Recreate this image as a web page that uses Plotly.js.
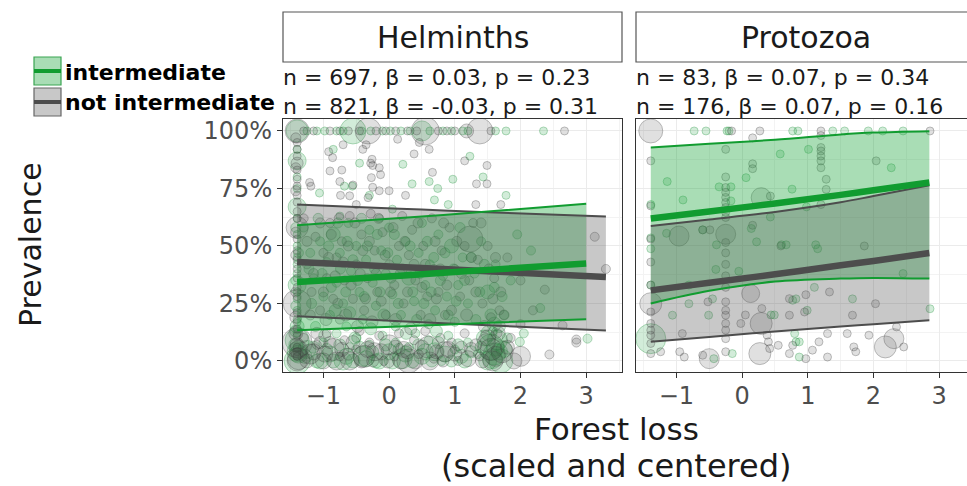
<!DOCTYPE html>
<html><head><meta charset="utf-8">
<script src="https://cdn.plot.ly/plotly-3.0.1.min.js"></script>
<style>html,body{margin:0;padding:0;background:#fff;}#chart{width:967px;height:486px;}</style>
</head><body><div id="chart"></div>
<script>
// ---------------- DATA ----------------
const panels = ['Helminths', 'Protozoa'];
const groups = ['intermediate', 'not intermediate'];
const statsHelminths = ['n = 697, β = 0.03, p = 0.23', 'n = 821, β = -0.03, p = 0.31'];
const statsProtozoa = ['n = 83, β = 0.07, p = 0.34', 'n = 176, β = 0.07, p = 0.16'];
const xTickVals = [-1, 0, 1, 2, 3];
const xTickText = ['−1', '0', '1', '2', '3'];
const yTickVals = [0, 0.25, 0.5, 0.75, 1];
const yTickText = ['0%', '25%', '50%', '75%', '100%'];

// points: [forest loss, prevalence, bubble size]
const helmIntPoints = [
[-1.4,1.0,22],[-1.4,0.87,18],[-1.4,0.67,18],[-1.4,0.62,8],[-1.4,0.55,8],[-1.4,0.5,8],[-1.4,0.45,8],[-1.4,0.42,8],[-1.4,0.38,8],[-1.4,0.33,18],[-1.4,0.3,8],[-1.4,0.27,8],[-1.4,0.22,8],[-1.4,0.18,8],[-1.4,0.15,14],[-1.4,0.12,8],[-1.4,0.09,24],[-1.4,0.06,8],[-1.4,0.04,20],[-1.4,0.02,8],[-1.4,0.0,26],[-1.4,0.8,8],[-1.4,0.75,8],[-1.4,0.92,8],
[-1.42,0.35,10],[-1.42,0.24,10],[-1.42,0.13,12],[-1.42,0.07,14],[-1.38,0.03,18],[-1.38,0.47,10],[-1.42,0.58,10],
[-1.25,1,8],[-1.1,1,8],[-0.98,1,8],[-0.8,1,8],[-0.7,1,8],[-0.55,1,26],[-0.42,1,8],[-0.28,1,8],[-0.1,1,8],[0.02,1,8],[0.18,1,8],[0.32,1,8],[0.5,1,20],[0.62,1,8],[0.82,1,8],[0.95,1,8],[1.12,1,8],[1.2,1,8],[1.62,1,8],[1.78,1,8],[2.35,1,8],
[-1.06,0.73,8],[-0.68,0.76,8],[-0.56,0.76,8],[-0.75,0.63,8],[-0.3,0.72,8],[0.21,0.855,8],[0.61,0.78,8],[0.74,0.75,8],[0.69,0.70,8],[0.97,0.79,8],[1.23,0.89,8],[1.43,0.80,8],[1.78,0.72,8],[0.9,0.68,8],[0.35,0.77,8],[-0.15,0.62,8],[0.05,0.66,8],[-0.85,0.92,8],[-0.45,0.86,8],
[-1.3,0.58,9],[-1.2,0.47,9],[-1.15,0.36,9],[-1.05,0.52,9],[-1.0,0.28,9],[-0.95,0.43,9],[-0.9,0.2,9],[-0.85,0.55,14],[-0.8,0.34,9],[-0.75,0.47,9],[-0.7,0.25,9],[-0.62,0.6,9],[-0.58,0.39,9],[-0.5,0.5,9],[-0.45,0.3,9],[-0.4,0.18,9],[-0.35,0.44,9],[-0.3,0.57,9],[-0.25,0.34,9],[-0.2,0.24,9],[-0.12,0.48,9],[-0.05,0.38,9],[0.0,0.58,9],[0.05,0.29,9],[0.12,0.44,9],[0.18,0.2,9],[0.25,0.52,9],[0.3,0.36,14],[0.38,0.26,9],[0.45,0.47,9],[0.5,0.6,9],[0.55,0.33,9],[0.62,0.42,9],[0.7,0.22,9],[0.75,0.55,9],[0.82,0.37,9],[0.88,0.28,9],[0.95,0.5,14],[1.05,0.33,9],[1.12,0.45,9],[1.2,0.25,9],[1.3,0.38,9],[1.4,0.52,9],[1.5,0.3,14],[1.62,0.42,9],[1.75,0.2,9],[1.85,0.35,9],[2.16,0.48,9],[2.3,0.23,9],[1.95,0.55,9],[-0.65,0.15,9],[0.1,0.15,9],[0.6,0.16,9],[1.0,0.17,9],
[-1.22,0.4,10],[-1.18,0.25,10],[-1.12,0.15,10],[-1.08,0.62,10],[-1.02,0.38,10],[-0.98,0.11,12],[-0.92,0.5,10],[-0.88,0.32,10],[-0.82,0.22,12],[-0.78,0.6,10],[-0.74,0.4,10],[-0.66,0.3,10],[-0.64,0.52,10],[-0.6,0.21,12],[-0.55,0.44,10],[-0.52,0.1,12],[-0.48,0.35,10],[-0.42,0.62,10],[-0.38,0.28,10],[-0.33,0.5,10],[-0.28,0.14,12],[-0.22,0.4,10],[-0.18,0.55,10],[-0.14,0.3,10],[-0.08,0.2,12],[-0.02,0.47,10],[0.03,0.36,10],[0.08,0.55,10],[0.14,0.25,10],[0.2,0.4,10],[0.26,0.12,12],[0.32,0.5,10],[0.36,0.3,10],[0.42,0.18,10],[0.47,0.38,10],[0.53,0.25,10],[0.58,0.52,10],[0.64,0.3,10],[0.68,0.45,10],[0.72,0.13,12],[0.78,0.35,10],[0.85,0.47,10],[0.9,0.2,10],[0.98,0.4,10],[1.02,0.26,10],[1.08,0.58,10],[1.15,0.35,10],[1.25,0.45,10],[1.32,0.18,10],[1.38,0.3,10],[1.45,0.42,10],[1.55,0.2,12],[1.6,0.32,10],[1.68,0.15,12],[1.72,0.28,10],[1.8,0.1,10],[1.52,0.12,16],[1.62,0.06,18],[1.57,0.01,20],[1.68,0.04,16],[1.6,0.16,14],
[-1.25,0.05,18],[-1.1,0.0,14],[-1.0,0.08,9],[-0.9,0.03,16],[-0.8,0.12,9],[-0.7,0.0,18],[-0.6,0.06,9],[-0.5,0.1,9],[-0.4,0.02,20],[-0.3,0.07,9],[-0.2,0.0,14],[-0.1,0.11,9],[0.0,0.04,16],[0.1,0.08,9],[0.2,0.01,20],[0.3,0.06,9],[0.4,0.12,9],[0.5,0.02,16],[0.6,0.09,9],[0.7,0.04,18],[0.8,0.0,9],[0.9,0.11,9],[1.0,0.05,9],[1.1,0.02,14],[1.2,0.08,9],[1.35,0.03,9],[1.45,0.1,16],[1.55,0.06,26],[1.6,0.03,22],[1.65,0.09,20],[1.7,0.0,24],[1.58,0.13,9],[1.75,0.05,16],[1.99,0.083,9],[2.05,0.12,9],[3.02,0.097,9],[1.5,0.0,18],
[-1.28,0.02,14],[-1.15,0.06,12],[-1.05,0.0,16],[-0.95,0.05,12],[-0.85,0.0,14],[-0.75,0.07,12],[-0.65,0.02,16],[-0.55,0.0,14],[-0.45,0.06,12],[-0.35,0.01,16],[-0.25,0.04,12],[-0.15,0.0,16],[-0.05,0.07,12],[0.05,0.0,16],[0.15,0.05,12],[0.25,0.03,16],[0.35,0.0,14],[0.45,0.07,12],[0.55,0.04,16],[0.65,0.0,12],[0.75,0.08,12],[0.85,0.03,16],[0.95,0.0,12],[1.05,0.07,12],[1.15,0.0,14],[1.25,0.04,12],[1.4,0.06,12]
];
const helmNotPoints = [
[-1.4,1.0,24],[-1.4,0.95,8],[-1.4,0.92,8],[-1.4,0.89,8],[-1.4,0.86,12],[-1.4,0.83,8],[-1.4,0.79,8],[-1.4,0.76,8],[-1.4,0.72,8],[-1.4,0.69,8],[-1.4,0.65,8],[-1.4,0.62,8],[-1.4,0.58,22],[-1.4,0.53,8],[-1.4,0.48,8],[-1.4,0.44,8],[-1.4,0.4,8],[-1.4,0.36,8],[-1.4,0.32,8],[-1.4,0.28,8],[-1.4,0.25,28],[-1.4,0.21,8],[-1.4,0.17,8],[-1.4,0.14,8],[-1.4,0.11,8],[-1.4,0.08,30],[-1.4,0.06,8],[-1.4,0.04,8],[-1.4,0.02,8],[-1.4,0.0,20],[-1.4,0.07,14],[-1.4,0.03,12],
[-1.42,0.97,10],[-1.42,0.84,10],[-1.42,0.74,10],[-1.42,0.56,10],[-1.42,0.46,10],[-1.42,0.3,10],[-1.42,0.19,12],[-1.42,0.12,14],[-1.38,0.05,18],[-1.38,0.01,22],
[-1.3,1,8],[-1.15,1,8],[-0.9,1,8],[-0.75,1,8],[-0.62,1,8],[-0.45,1,8],[-0.32,1,26],[-0.2,1,8],[-0.05,1,8],[0.1,1,8],[0.28,1,8],[0.42,1,8],[0.55,1,28],[0.75,1,8],[0.88,1,8],[1.0,1,8],[1.18,1,14],[1.38,1,26],[1.55,1,8],[2.67,1,8],
[-0.70,0.94,8],[-0.92,0.91,8],[-0.86,0.884,8],[-0.72,0.83,8],[-0.9,0.826,8],[-0.40,0.92,8],[-0.35,0.94,8],[-0.26,0.877,8],[-0.25,0.85,8],[-0.15,0.84,8],[-0.13,0.81,8],[0.13,0.964,8],[0.46,0.95,8],[0.61,0.92,8],[0.38,0.9,8],[0.66,0.82,8],[-1.21,0.776,8],[-1.19,0.76,8],[-0.75,0.78,8],[-0.55,0.765,8],[-0.27,0.797,8],[-0.15,0.74,8],[0.0,0.74,8],[-0.32,0.71,8],[-0.25,0.755,8],[-0.6,0.718,8],[1.15,0.87,8],[1.49,0.85,8],[1.33,0.77,8],[1.49,0.77,8],[1.32,0.68,8],[1.7,0.68,8],[-0.28,0.86,8],[-0.74,0.72,8],[-0.5,0.68,8],[0.25,0.72,8],
[-1.3,0.62,9],[-1.25,0.42,9],[-1.18,0.3,9],[-1.12,0.54,9],[-1.05,0.22,9],[-1.0,0.47,9],[-0.95,0.36,9],[-0.9,0.6,9],[-0.85,0.27,9],[-0.8,0.45,9],[-0.75,0.18,9],[-0.72,0.52,9],[-0.68,0.35,9],[-0.6,0.63,9],[-0.55,0.27,9],[-0.5,0.42,9],[-0.42,0.55,9],[-0.38,0.22,9],[-0.33,0.36,9],[-0.28,0.64,9],[-0.22,0.48,9],[-0.18,0.3,9],[-0.1,0.56,9],[-0.05,0.2,9],[0.0,0.42,9],[0.08,0.33,9],[0.15,0.5,9],[0.2,0.63,9],[0.22,0.25,9],[0.3,0.46,9],[0.35,0.57,9],[0.4,0.35,9],[0.48,0.2,9],[0.52,0.5,9],[0.58,0.28,9],[0.65,0.62,9],[0.68,0.4,9],[0.75,0.3,9],[0.8,0.48,9],[0.85,0.2,9],[0.92,0.58,9],[1.0,0.4,9],[1.08,0.28,9],[1.15,0.5,9],[1.22,0.35,9],[1.28,0.6,9],[1.35,0.44,9],[1.42,0.25,9],[1.5,0.5,9],[1.55,0.19,9],[1.6,0.36,9],[1.68,0.22,9],[1.8,0.45,9],[2.0,0.35,9],[2.19,0.22,9],[2.37,0.31,9],[3.13,0.54,9],[3.3,0.40,9],[1.23,0.53,26],
[-1.25,0.52,10],[-1.2,0.2,10],[-1.15,0.38,10],[-1.1,0.12,12],[-1.05,0.6,10],[-1.0,0.3,10],[-0.96,0.18,12],[-0.92,0.45,10],[-0.88,0.55,10],[-0.82,0.37,10],[-0.78,0.25,10],[-0.76,0.62,10],[-0.7,0.43,10],[-0.66,0.2,12],[-0.62,0.5,10],[-0.58,0.33,10],[-0.52,0.6,10],[-0.48,0.15,12],[-0.44,0.38,10],[-0.4,0.48,10],[-0.36,0.27,10],[-0.3,0.52,10],[-0.26,0.17,12],[-0.2,0.38,10],[-0.16,0.62,10],[-0.12,0.26,10],[-0.06,0.46,10],[0.02,0.3,10],[0.06,0.58,10],[0.1,0.18,12],[0.17,0.38,10],[0.24,0.52,10],[0.28,0.3,10],[0.33,0.14,12],[0.38,0.42,10],[0.44,0.6,10],[0.5,0.32,10],[0.55,0.42,10],[0.62,0.18,12],[0.7,0.52,10],[0.72,0.27,10],[0.78,0.4,10],[0.83,0.6,10],[0.88,0.33,10],[0.95,0.22,10],[1.03,0.52,10],[1.1,0.38,10],[1.18,0.2,12],[1.25,0.45,10],[1.32,0.3,10],[1.4,0.6,10],[1.45,0.15,12],[1.52,0.4,10],[1.58,0.27,10],[1.62,0.45,10],[1.66,0.12,14],[1.7,0.3,10],[1.75,0.2,10],[1.55,0.05,22],[1.62,0.02,20],[1.5,0.1,16],
[-1.3,0.1,9],[-1.2,0.03,20],[-1.1,0.07,9],[-1.0,0.0,16],[-0.95,0.12,9],[-0.85,0.05,22],[-0.75,0.02,9],[-0.68,0.09,9],[-0.6,0.0,18],[-0.5,0.05,9],[-0.45,0.13,9],[-0.38,0.02,22],[-0.3,0.08,9],[-0.22,0.04,18],[-0.15,0.11,9],[-0.08,0.0,9],[0.0,0.07,20],[0.08,0.02,9],[0.15,0.12,9],[0.22,0.05,16],[0.3,0.0,24],[0.38,0.09,9],[0.45,0.03,9],[0.55,0.13,9],[0.6,0.06,22],[0.68,0.01,9],[0.78,0.1,9],[0.85,0.04,20],[0.95,0.08,9],[1.05,0.0,9],[1.15,0.12,9],[1.25,0.05,14],[1.38,0.02,9],[1.48,0.08,18],[1.58,0.0,20],[1.65,0.12,9],[1.72,0.04,22],[1.85,0.1,9],[2.0,0.02,20],[2.44,0.028,9],[2.64,0.155,9],[2.85,0.093,9],[2.85,0.08,9],[2.0,0.16,9],
[-1.25,0.0,14],[-1.15,0.04,16],[-1.05,0.08,12],[-0.98,0.03,16],[-0.9,0.08,12],[-0.8,0.0,18],[-0.72,0.05,14],[-0.62,0.03,12],[-0.55,0.08,14],[-0.42,0.0,14],[-0.33,0.05,16],[-0.25,0.0,12],[-0.12,0.04,16],[-0.02,0.0,14],[0.1,0.06,14],[0.18,0.0,16],[0.28,0.04,14],[0.4,0.0,16],[0.5,0.06,14],[0.62,0.0,18],[0.72,0.04,14],[0.82,0.0,12],[0.9,0.05,16],[1.0,0.03,14],[1.1,0.06,12],[1.2,0.01,16],[1.32,0.07,12],[1.42,0.0,14],[1.8,0.06,14],[1.9,0.0,16]
];
const protIntPoints = [
[-0.73,1,8],[-0.55,1,8],[-0.23,1,8],[-0.2,1,8],[0.77,1,8],[0.85,1,8],[1.38,1,8],[1.56,1,8],[1.92,1,8],[2.14,1,8],[2.45,1,8],
[0.58,0.90,8],[1.01,0.92,8],[2.27,0.84,8],[-1.14,0.78,8],[-0.35,0.757,8],[-0.17,0.757,8],[0.06,0.797,8],[0.76,0.747,8],[-0.9,0.70,8],[-0.17,0.696,8],[-1.39,0.68,8],[0.43,0.626,8],[0.98,0.67,8],[-1.15,0.555,8],[-0.6,0.57,8],[0.14,0.576,8],[0.22,0.518,8],[-1.39,0.535,8],[-0.39,0.505,8],[0.6,0.505,8],[0.67,0.505,8],[1.12,0.505,8],[-1.39,0.488,8],[-1.39,0.33,8],[-1.39,0.097,30],[-1.06,0.199,8],[-0.81,0.249,8],[-0.51,0.199,8],[-0.4,0.398,8],[-0.05,0.39,8],[-0.81,0.33,8],[-0.45,0.27,8],[-0.15,0.032,8],[-0.43,0.01,8],[0.44,0.2,8],[0.49,0.2,8],[0.77,0.264,8],[0.82,0.27,8],[0.99,0.22,8],[0.8,0.119,8],[0.82,0.083,8],[0.87,0.083,8],[0.87,0.017,8],[1.15,0.488,8],[1.1,0.32,8],[1.68,0.27,8],[2.45,0.38,8],[2.86,0.227,8]
];
const protNotPoints = [
[-1.39,1.0,24],[-1.39,0.87,8],[-1.39,0.674,8],[-1.39,0.53,8],[-0.25,0.92,8],[-0.25,0.80,8],[-0.25,0.754,8],[-0.25,0.733,8],[-0.25,0.711,8],[-0.25,0.689,8],[-0.25,0.667,8],[-0.25,0.646,8],[-0.25,0.624,8],[-0.25,0.551,20],[-0.25,0.515,8],[-0.25,0.47,8],[-0.25,0.42,8],[-0.25,0.37,8],[-0.25,0.32,8],[-0.16,1.0,8],[0.16,0.97,8],[0.16,0.857,8],[0.16,0.836,8],[0.27,1.0,8],[0.29,0.71,20],[0.43,0.717,8],[-0.96,0.543,20],[-0.6,0.57,8],[-0.49,0.57,8],[0.16,0.59,8],[1.2,1.0,8],[1.2,0.98,8],[1.2,0.928,8],[1.2,0.913,8],[1.2,0.891,8],[1.2,0.87,8],[1.2,0.84,8],[1.28,0.79,8],[1.28,0.746,8],[1.2,0.68,8],[1.86,0.5,8],[2.04,0.87,8],[2.86,1.0,8],[0.59,0.5,8],
[-1.39,0.43,8],[-1.39,0.33,8],[-1.39,0.249,22],[-1.39,0.213,8],[-1.39,0.163,8],[-1.39,0.134,8],[-1.39,0.112,8],[-1.39,0.076,8],[-1.39,0.032,8],[-1.24,0.04,8],[-0.91,0.119,8],[-0.95,0.04,8],[-0.88,0.017,8],[-0.6,0.025,8],[-0.5,0.01,20],[-0.52,0.257,8],[-0.25,0.257,8],[-0.25,0.22,8],[-0.25,0.199,8],[-0.25,0.163,8],[-0.25,0.134,8],[-0.25,0.097,8],[-0.25,0.04,8],[-0.02,0.163,8],[0.05,0.2,8],[0.13,0.293,18],[0.3,0.228,8],[0.29,0.163,22],[0.27,0.032,22],[0.38,0.112,8],[0.4,0.083,8],[0.42,0.054,8],[0.55,0.068,8],[0.72,0.271,8],[0.72,0.199,8],[0.97,0.288,8],[0.95,0.213,8],[0.77,0.068,8],[0.72,0.032,8],[0.97,0.01,8],[1.07,0.047,8],[1.17,0.083,8],[1.3,0.119,8],[1.3,0.017,8],[1.68,0.199,8],[1.6,0.119,8],[1.7,0.061,8],[1.73,0.04,8],[1.93,0.112,8],[2.03,0.249,8],[2.18,0.061,22],[2.31,0.097,20],[2.46,0.061,8],[2.35,0.148,8],[1.33,0.3,8]
];

// fitted curves (forest loss, prevalence)
const helmIntX = [-1.4, -0.5, 0.5, 1.5, 3.0];
const helmIntFit = [0.343, 0.359, 0.377, 0.396, 0.424];
const helmIntLo = [0.133, 0.143, 0.154, 0.166, 0.181];
const helmIntHi = [0.590, 0.608, 0.628, 0.650, 0.683];
const helmNotX = [-1.4, -0.5, 0.5, 1.5, 3.3];
const helmNotFit = [0.430, 0.418, 0.404, 0.390, 0.365];
const helmNotLo = [0.194, 0.182, 0.168, 0.155, 0.132];
const helmNotHi = [0.680, 0.669, 0.658, 0.647, 0.628];
const protX = [-1.39, -0.5, 0.5, 1.5, 2.0, 2.85];
const protIntFit = [0.619, 0.650, 0.685, 0.722, 0.742, 0.776];
const protIntLo = [0.250, 0.305, 0.345, 0.358, 0.361, 0.358];
const protIntHi = [0.928, 0.944, 0.962, 0.985, 0.993, 0.999];
const protNotFit = [0.307, 0.340, 0.377, 0.416, 0.435, 0.469];
const protNotLo = [0.083, 0.104, 0.128, 0.150, 0.160, 0.177];
const protNotHi = [0.587, 0.615, 0.648, 0.690, 0.717, 0.764];

// ---------------- STYLE / LAYOUT ----------------
const W = 967, H = 486;
const px = v => v / W, py = v => 1 - v / H;
const GREEN = '#119c30', GRAY = '#4d4d4d';
const GREEN_PT = 'rgba(30,160,60,0.28)', GREEN_PT_EDGE = 'rgba(20,140,50,0.45)';
const GRAY_PT = 'rgba(80,80,80,0.25)', GRAY_PT_EDGE = 'rgba(60,60,60,0.45)';
const GREEN_RIB = 'rgba(30,165,60,0.38)', GRAY_RIB = 'rgba(85,85,85,0.32)';
const FONT = 'DejaVu Sans, sans-serif';

function pts(arr, xa, ya, fill, edge) {
  return {type:'scatter', mode:'markers', x:arr.map(p=>p[0]), y:arr.map(p=>p[1]), xaxis:xa, yaxis:ya,
    marker:{size:arr.map(p=>p[2]), color:fill, line:{color:edge, width:1}}, hoverinfo:'skip', showlegend:false};
}
function ribbon(xs, lo, hi, xa, ya, fill) {
  return {type:'scatter', mode:'lines', x:xs.concat(xs.slice().reverse()), y:hi.concat(lo.slice().reverse()),
    fill:'toself', fillcolor:fill, line:{width:0}, xaxis:xa, yaxis:ya, hoverinfo:'skip', showlegend:false};
}
function curve(xs, ys, xa, ya, color, w) {
  return {type:'scatter', mode:'lines', x:xs, y:ys, xaxis:xa, yaxis:ya, line:{color:color, width:w, shape:'spline'},
    hoverinfo:'skip', showlegend:false};
}

const traces = [
  pts(helmIntPoints, 'x', 'y', GREEN_PT, GREEN_PT_EDGE),
  pts(helmNotPoints, 'x', 'y', GRAY_PT, GRAY_PT_EDGE),
  pts(protIntPoints, 'x2', 'y2', GREEN_PT, GREEN_PT_EDGE),
  pts(protNotPoints, 'x2', 'y2', GRAY_PT, GRAY_PT_EDGE),
  ribbon(helmIntX, helmIntLo, helmIntHi, 'x', 'y', GREEN_RIB),
  ribbon(helmNotX, helmNotLo, helmNotHi, 'x', 'y', GRAY_RIB),
  ribbon(protX, protIntLo, protIntHi, 'x2', 'y2', GREEN_RIB),
  ribbon(protX, protNotLo, protNotHi, 'x2', 'y2', GRAY_RIB),
  curve(helmNotX, helmNotLo, 'x', 'y', GRAY, 2),
  curve(helmNotX, helmNotHi, 'x', 'y', GRAY, 2),
  curve(helmNotX, helmNotFit, 'x', 'y', GRAY, 6.5),
  curve(protX, protNotLo, 'x2', 'y2', GRAY, 2),
  curve(protX, protNotHi, 'x2', 'y2', GRAY, 2),
  curve(protX, protNotFit, 'x2', 'y2', GRAY, 6.5),
  curve(helmIntX, helmIntLo, 'x', 'y', GREEN, 2),
  curve(helmIntX, helmIntHi, 'x', 'y', GREEN, 2),
  curve(helmIntX, helmIntFit, 'x', 'y', GREEN, 6.5),
  curve(protX, protIntLo, 'x2', 'y2', GREEN, 2),
  curve(protX, protIntHi, 'x2', 'y2', GREEN, 2),
  curve(protX, protIntFit, 'x2', 'y2', GREEN, 6.5)
];

const axBase = {showline:true, linecolor:'#333333', linewidth:1, showgrid:true, gridcolor:'#ebebeb', gridwidth:1,
  zeroline:false, ticks:'outside', ticklen:5, tickcolor:'#333333', tickwidth:1};
const yDom = [py(372), py(119)];
const xRange1 = [-1.615, 3.545], xRange2 = [-1.615, 3.423];

const layout = {
  width:W, height:H, margin:{l:0, r:0, t:0, b:0}, showlegend:false,
  paper_bgcolor:'#ffffff', plot_bgcolor:'#ffffff',
  font:{family:FONT, color:'#1a1a1a'},
  xaxis:Object.assign({}, axBase, {domain:[px(283), px(622)], range:xRange1, anchor:'y', mirror:true,
    tickvals:xTickVals, ticktext:xTickText, tickfont:{size:24, color:'#4d4d4d'}, ticklabelstandoff:-3,
    minor:{dtick:0.5, showgrid:true, gridcolor:'#f3f3f3', gridwidth:1}}),
  xaxis2:Object.assign({}, axBase, {domain:[px(636), 1], range:xRange2, anchor:'y2', mirror:true,
    tickvals:xTickVals, ticktext:xTickText, tickfont:{size:24, color:'#4d4d4d'}, ticklabelstandoff:-3,
    minor:{dtick:0.5, showgrid:true, gridcolor:'#f3f3f3', gridwidth:1}}),
  yaxis:Object.assign({}, axBase, {domain:yDom, range:[-0.048, 1.052], anchor:'x', mirror:true,
    tickvals:yTickVals, ticktext:yTickText, tickfont:{size:24, color:'#4d4d4d'},
    minor:{dtick:0.125, showgrid:true, gridcolor:'#f3f3f3', gridwidth:1}}),
  yaxis2:Object.assign({}, axBase, {domain:yDom, range:[-0.048, 1.052], anchor:'x2', mirror:false,
    tickvals:yTickVals, showticklabels:false, ticks:'',
    minor:{dtick:0.125, showgrid:true, gridcolor:'#f3f3f3', gridwidth:1}}),
  shapes:[
    {type:'rect', xref:'paper', yref:'paper', x0:px(283), x1:px(622), y0:py(62), y1:py(12), fillcolor:'#ffffff', line:{color:'#555555', width:1.2}},
    {type:'rect', xref:'paper', yref:'paper', x0:px(636), x1:1.05, y0:py(62), y1:py(12), fillcolor:'#ffffff', line:{color:'#555555', width:1.2}},
    {type:'rect', xref:'paper', yref:'paper', x0:px(34), x1:px(61), y0:py(85), y1:py(57), fillcolor:GREEN_RIB, line:{color:'#3aa552', width:1.2}},
    {type:'line', xref:'paper', yref:'paper', x0:px(34), x1:px(61), y0:py(71), y1:py(71), line:{color:GREEN, width:4}},
    {type:'rect', xref:'paper', yref:'paper', x0:px(34), x1:px(61), y0:py(116), y1:py(88), fillcolor:GRAY_RIB, line:{color:'#666666', width:1.2}},
    {type:'line', xref:'paper', yref:'paper', x0:px(34), x1:px(61), y0:py(102), y1:py(102), line:{color:GRAY, width:4}}
  ],
  annotations:[
    {text:panels[0], xref:'paper', yref:'paper', x:px(452.5), y:py(38), xanchor:'center', yanchor:'middle', showarrow:false, font:{size:30, color:'#1a1a1a'}},
    {text:panels[1], xref:'paper', yref:'paper', x:px(805.5), y:py(38), xanchor:'center', yanchor:'middle', showarrow:false, font:{size:30, color:'#1a1a1a'}},
    {text:statsHelminths[0], xref:'paper', yref:'paper', x:px(281), y:py(77), xanchor:'left', yanchor:'middle', showarrow:false, font:{size:22, color:'#1a1a1a'}},
    {text:statsHelminths[1], xref:'paper', yref:'paper', x:px(281), y:py(106), xanchor:'left', yanchor:'middle', showarrow:false, font:{size:22, color:'#1a1a1a'}},
    {text:statsProtozoa[0], xref:'paper', yref:'paper', x:px(634), y:py(77), xanchor:'left', yanchor:'middle', showarrow:false, font:{size:22, color:'#1a1a1a'}},
    {text:statsProtozoa[1], xref:'paper', yref:'paper', x:px(634), y:py(106), xanchor:'left', yanchor:'middle', showarrow:false, font:{size:22, color:'#1a1a1a'}},
    {text:'<b>' + groups[0] + '</b>', xref:'paper', yref:'paper', x:px(63), y:py(72), xanchor:'left', yanchor:'middle', showarrow:false, font:{size:22, color:'#000000'}},
    {text:'<b>' + groups[1] + '</b>', xref:'paper', yref:'paper', x:px(63), y:py(102), xanchor:'left', yanchor:'middle', showarrow:false, font:{size:22, color:'#000000'}},
    {text:'Prevalence', xref:'paper', yref:'paper', x:px(30), y:py(245), xanchor:'center', yanchor:'middle', textangle:-90, showarrow:false, font:{size:30, color:'#1a1a1a'}},
    {text:'Forest loss', xref:'paper', yref:'paper', x:px(616), y:py(429), xanchor:'center', yanchor:'middle', showarrow:false, font:{size:31, color:'#1a1a1a'}},
    {text:'(scaled and centered)', xref:'paper', yref:'paper', x:px(616), y:py(466), xanchor:'center', yanchor:'middle', showarrow:false, font:{size:32, color:'#1a1a1a'}}
  ]
};

Plotly.newPlot('chart', traces, layout, {displayModeBar:false, staticPlot:true});
</script>
</body></html>
